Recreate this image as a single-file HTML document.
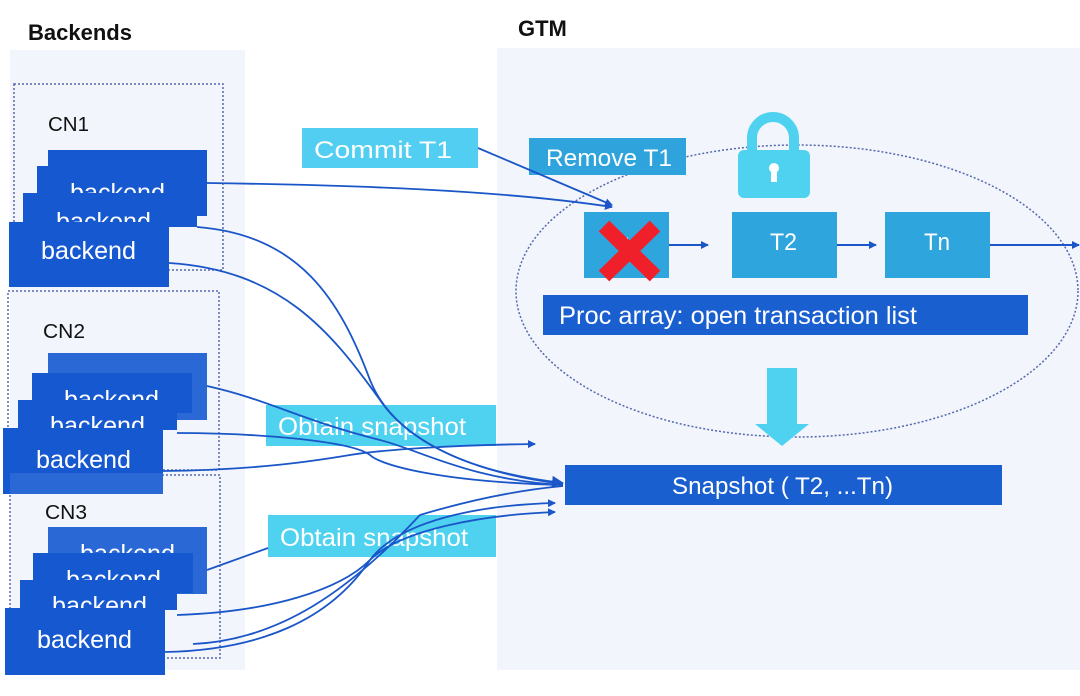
<!DOCTYPE html>
<html><head><meta charset="utf-8"><style>
body{margin:0;width:1080px;height:691px;background:#fff;overflow:hidden;font-family:"Liberation Sans",sans-serif}
</style></head><body>
<svg width="1080" height="691" viewBox="0 0 1080 691" xmlns="http://www.w3.org/2000/svg" font-family="Liberation Sans, sans-serif">
<defs>
<marker id="a" markerWidth="8" markerHeight="8" refX="7" refY="4" orient="auto" markerUnits="userSpaceOnUse"><path d="M0,0 L8,4 L0,8z" fill="#1a56c8"/></marker>
<marker id="b" markerWidth="12" markerHeight="12" refX="11" refY="6" orient="auto" markerUnits="userSpaceOnUse"><path d="M0,0 L12,6 L0,12z" fill="#1a56c8"/></marker>
</defs>
<rect x="10" y="50" width="235" height="620" fill="#f2f5fb"/>
<rect x="497" y="48" width="583" height="622" fill="#f2f5fb"/>
<text x="28" y="40" font-size="22" font-weight="bold" fill="#111">Backends</text>
<text x="518" y="36" font-size="22" font-weight="bold" fill="#111">GTM</text>
<g fill="none" stroke="#5468b0" stroke-width="1.5" stroke-dasharray="2,2">
<rect x="14" y="84" width="209" height="186"/>
<rect x="8" y="291" width="211" height="179"/>
<rect x="10" y="475" width="210" height="183"/>
</g>
<g font-size="20" fill="#111"><text x="48" y="131" textLength="41" lengthAdjust="spacingAndGlyphs">CN1</text><text x="43" y="338" textLength="42" lengthAdjust="spacingAndGlyphs">CN2</text><text x="45" y="519" textLength="42" lengthAdjust="spacingAndGlyphs">CN3</text></g>
<g font-size="25" fill="#fff">
<rect x="48" y="150" width="159" height="66" fill="#1658cf"/>
<rect x="37" y="166" width="160" height="60" fill="#1658cf"/>
<text x="70" y="201" textLength="95" lengthAdjust="spacingAndGlyphs">backend</text>
<rect x="23" y="193" width="174" height="34" fill="#1658cf"/>
<text x="56" y="230" textLength="95" lengthAdjust="spacingAndGlyphs">backend</text>
<rect x="9" y="222" width="160" height="65" fill="#1658cf"/>
<text x="41" y="259" textLength="95" lengthAdjust="spacingAndGlyphs">backend</text>
<rect x="48" y="353" width="159" height="67" fill="#2a68d6"/>
<rect x="32" y="373" width="160" height="40" fill="#1658cf"/>
<text x="64" y="408" textLength="95" lengthAdjust="spacingAndGlyphs">backend</text>
<rect x="18" y="400" width="159" height="30" fill="#1658cf"/>
<text x="50" y="434" textLength="95" lengthAdjust="spacingAndGlyphs">backend</text>
<rect x="3" y="428" width="160" height="66" fill="#1658cf"/>
<rect x="10" y="473" width="153" height="21" fill="#2a68d6"/>
<text x="36" y="468" textLength="95" lengthAdjust="spacingAndGlyphs">backend</text>
<rect x="48" y="527" width="159" height="67" fill="#2a68d6"/>
<text x="80" y="562" textLength="95" lengthAdjust="spacingAndGlyphs">backend</text>
<rect x="33" y="553" width="160" height="40" fill="#1658cf"/>
<text x="66" y="588" textLength="95" lengthAdjust="spacingAndGlyphs">backend</text>
<rect x="20" y="580" width="157" height="30" fill="#1658cf"/>
<text x="52" y="614" textLength="95" lengthAdjust="spacingAndGlyphs">backend</text>
<rect x="5" y="608" width="160" height="67" fill="#1658cf"/>
<text x="37" y="648" textLength="95" lengthAdjust="spacingAndGlyphs">backend</text>
</g>
<ellipse cx="797" cy="291" rx="281" ry="146" fill="none" stroke="#5468b0" stroke-width="1.5" stroke-dasharray="2,2"/>
<path d="M752,150 v-12 a21,21 0 0 1 42,0 v12" fill="none" stroke="#4fd2f0" stroke-width="10"/>
<rect x="738" y="150" width="72" height="48" rx="6" fill="#4fd2f0"/>
<circle cx="774" cy="168" r="5" fill="#fff"/><rect x="771" y="168" width="6" height="14" fill="#fff"/>
<rect x="302" y="128" width="176" height="40" fill="#52cef2"/>
<text x="314" y="158" font-size="24" fill="#fff" textLength="138" lengthAdjust="spacingAndGlyphs">Commit T1</text>
<rect x="529" y="138" width="157" height="37" fill="#2fa4dc"/>
<text x="546" y="166" font-size="24" fill="#fff" textLength="126" lengthAdjust="spacingAndGlyphs">Remove T1</text>
<rect x="584" y="212" width="85" height="66" fill="#2fa5dd"/>
<text x="615" y="253" font-size="22" fill="#fff">T1</text>
<path d="M604,226 L655,276 M655,226 L604,276" stroke="#f0202a" stroke-width="15"/>
<rect x="732" y="212" width="105" height="66" fill="#2fa5dd"/>
<text x="770" y="250" font-size="24" fill="#fff" textLength="27" lengthAdjust="spacingAndGlyphs">T2</text>
<rect x="885" y="212" width="105" height="66" fill="#2fa5dd"/>
<text x="924" y="250" font-size="24" fill="#fff" textLength="26" lengthAdjust="spacingAndGlyphs">Tn</text>
<g stroke="#1a56c8" stroke-width="2" fill="none" marker-end="url(#a)">
<line x1="669" y1="245" x2="708" y2="245"/>
<line x1="837" y1="245" x2="876" y2="245"/>
<line x1="990" y1="245" x2="1079" y2="245"/>
</g>
<rect x="543" y="295" width="485" height="40" fill="#1a5fd0"/>
<text x="559" y="324" font-size="25" fill="#fff" textLength="358" lengthAdjust="spacingAndGlyphs">Proc array: open transaction list</text>
<path d="M767,368 h30 v56 h12 l-27,22 l-27,-22 h12z" fill="#4fd2f0"/>
<rect x="565" y="465" width="437" height="40" fill="#1a5fd0"/>
<text x="672" y="494" font-size="24" fill="#fff" textLength="221" lengthAdjust="spacingAndGlyphs">Snapshot ( T2, ...Tn)</text>
<rect x="266" y="405" width="230" height="41" fill="#4fd2f0"/>
<text x="278" y="435" font-size="25" fill="#fff" textLength="188" lengthAdjust="spacingAndGlyphs">Obtain snapshot</text>
<rect x="268" y="515" width="228" height="42" fill="#4fd2f0"/>
<text x="280" y="546" font-size="25" fill="#fff" textLength="188" lengthAdjust="spacingAndGlyphs">Obtain snapshot</text>
<g stroke="#1a56c8" stroke-width="1.8" fill="none">
<path d="M478,148 L612,205" marker-end="url(#a)"/>
<path d="M207,183 C350,185 500,190 612,207" marker-end="url(#a)"/>
<path d="M197,227 C300,235 340,300 370,380 C390,430 450,470 563,483" marker-end="url(#b)"/>
<path d="M169,263 C280,270 330,330 380,400 C400,430 450,470 563,484"/>
<path d="M207,386 C270,400 300,420 380,440 C420,450 470,480 563,485"/>
<path d="M177,433 C250,433 350,440 370,455 C380,465 440,482 563,485"/>
<path d="M163,471 C260,470 320,460 350,455 C380,450 450,445 535,444" marker-end="url(#a)"/>
<path d="M207,570 L268,548"/>
<path d="M193,644 C280,640 350,590 420,515 C470,500 520,490 563,486"/>
<path d="M165,652 C260,650 330,620 370,560 C400,520 480,505 555,503" marker-end="url(#a)"/>
<path d="M177,615 C270,612 340,590 370,560 C400,530 480,515 555,512" marker-end="url(#a)"/>
</g>
</svg>
</body></html>
